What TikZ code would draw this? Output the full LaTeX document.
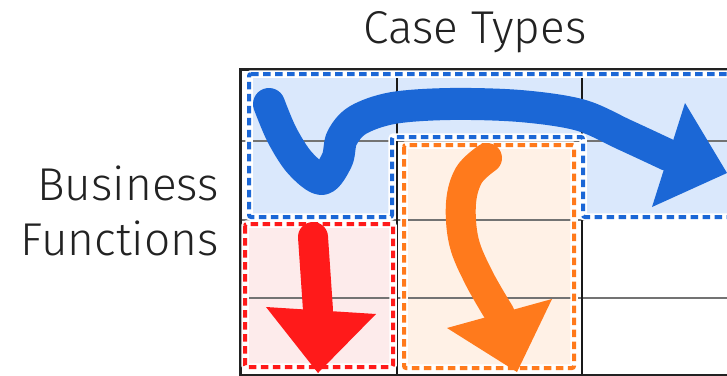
\documentclass[tikz,border=0pt]{standalone}
\usepackage{fontspec}
\IfFontExistsTF{Fira Sans Light}{\setmainfont{Fira Sans Light}}{\setmainfont{Fira Sans}}
\definecolor{cblue}{HTML}{1B67D6}
\definecolor{cbluefill}{HTML}{DAE8FC}
\definecolor{cred}{HTML}{FF1A1A}
\definecolor{credfill}{HTML}{FDEBEB}
\definecolor{corange}{HTML}{FF7A1C}
\definecolor{corangefill}{HTML}{FFF1E6}
\definecolor{ctext}{HTML}{222222}
\begin{document}
\begin{tikzpicture}[x=1pt,y=-1pt,
  title/.style={font=\fontsize{46}{54}\selectfont, text=ctext, inner sep=0pt},
  halo/.style={draw=white, line width=7.5pt, rounded corners=2pt},
  dashline/.style={line width=4pt, dash pattern=on 7.5pt off 4.5pt, rounded corners=2pt},
  rowline/.style={draw=black!55, line width=1.2pt},
  colline/.style={draw=black!90, line width=1.2pt},
  shaft/.style={line width=30pt, line cap=round, line join=round}]
\useasboundingbox (0,0) rectangle (727,375);
\clip (0,0) rectangle (727,375);
% titles
\node[title, anchor=base] (ct) at (475,43) {Case Types};
\node[title, anchor=base east] (bf1) at (219,200) {Business};
\node[title, anchor=base east] (bf2) at (219,255) {Functions};
% region fills
\fill[cbluefill] (249,74) -- (740,74) -- (740,217) -- (583,217) -- (583,137) -- (392,137) -- (392,217) -- (249,217) -- cycle;
\fill[credfill] (245,224) rectangle (393,367);
\fill[corangefill] (404,145) rectangle (574,368);
% grid
\draw[rowline] (240,141) -- (780,141);
\draw[rowline] (240,220) -- (780,220);
\draw[rowline] (240,298) -- (780,298);
\draw[colline] (397,69) -- (397,380);
\draw[colline] (582,69) -- (582,380);
\draw[draw=ctext, line width=3pt] (240,69) rectangle (790,375);
% region outlines
\draw[halo] (249,74) -- (740,74) -- (740,217) -- (583,217) -- (583,137) -- (392,137) -- (392,217) -- (249,217) -- cycle;
\draw[halo] (245,224) rectangle (393,367);
\draw[halo] (404,145) rectangle (574,368);
\draw[dashline, cblue] (249,74) -- (740,74) -- (740,217) -- (583,217) -- (583,137) -- (392,137) -- (392,217) -- (249,217) -- cycle;
\draw[dashline, cred] (245,224) rectangle (393,367);
\draw[dashline, corange] (404,145) rectangle (574,368);
% blue arrow
\draw[shaft, cblue, line width=32pt] plot[smooth, tension=0.55] coordinates {(269,104) (282,135) (300,163) (322,179) (337,160) (342,138) (358,120) (393,108) (450,104) (520,106) (580,115) (625,135) (668,155)};
\fill[cblue] (685,103) -- (727,173) -- (652,207) -- cycle;
% red arrow
\draw[shaft, cred] (313,237) -- (318,310);
\fill[cred] (266,307) -- (376,314) -- (318,373) -- cycle;
% orange arrow
\draw[shaft, corange] plot[smooth, tension=0.6] coordinates {(487,158) (469,175) (461,203) (464,242) (479,278) (499.5,313.5)};
\fill[corange] (447,328) -- (552,299) -- (517,372) -- cycle;
\end{tikzpicture}
\end{document}
